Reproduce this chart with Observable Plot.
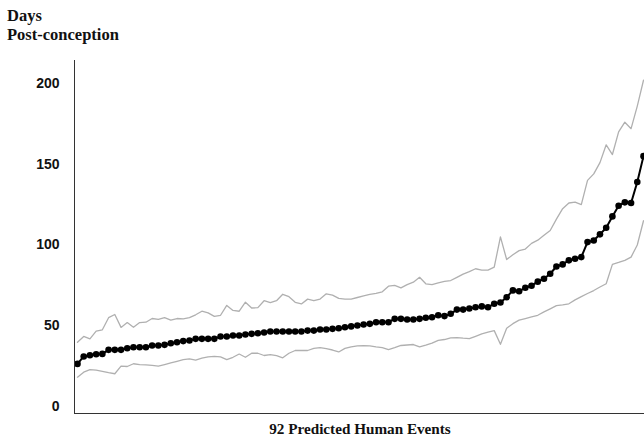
<!DOCTYPE html>
<html>
<head>
<meta charset="utf-8">
<script src="https://cdn.jsdelivr.net/npm/d3@7"></script>
<script src="https://cdn.jsdelivr.net/npm/@observablehq/plot@0.6"></script>
<style>
  html, body { margin: 0; padding: 0; background: #fff; }
  #wrap { position: relative; width: 644px; height: 438px; overflow: hidden; }
  .t { position: absolute; font-family: "Liberation Serif", "Times New Roman", serif; font-weight: bold; font-size: 15px; color: #111; line-height: 1; white-space: nowrap; }
  .title { font-size: 16.5px; }
</style>
</head>
<body>
<div id="wrap">
  <div class="t title" style="left:7px; top:8px;">Days</div>
  <div class="t title" style="left:7px; top:27px;">Post-conception</div>
  <div class="t" id="xlab" style="left:0; width:644px; text-align:center; padding-left:76px; box-sizing:border-box; top:421px; font-size:15.2px;">92 Predicted Human Events</div>
</div>
<script>
const median = [26.4,31,31.8,32.4,32.6,35.1,35.1,35.1,36.1,36.7,36.7,36.7,37.8,37.8,38.2,39.2,39.8,40.5,40.9,41.9,
  41.9,41.9,41.9,43.4,43.4,44,44,44.6,45,45.4,45.8,46.5,46.5,46.5,46.5,46.5,46.5,47,47,47.7,
  47.7,48.1,48.5,49.1,49.6,50.2,50.8,51.2,52.2,52.2,52.2,54.3,54.3,53.9,53.9,54.3,55,55.3,56.5,56,
  57.4,60,60,60.7,61.5,62,61.5,63.6,64.4,67.7,71.9,71.4,73.5,74.8,77.3,79.1,82.2,86.7,88,90.5,
  91.5,92.5,101.8,102.8,106.6,110.7,117.7,124.3,126.4,126,139,155];
const upper = [39.8,43.4,41.9,46.7,47.5,55,57,49,52,49.1,52,52.2,54.5,54,55,53.5,54.5,54.3,55,56.8,
  59,58,55.8,56.5,62.6,59.5,59,64.6,61,61.2,65.5,64.3,65.5,69.5,68,64.5,63.5,66.5,65.5,66.5,
  69.8,69,67,66.5,66.5,67.5,68.5,69.5,70,71,74.5,75,73.5,75.5,77,80,76,75.5,76.5,77.5,
  78,80,82,83.5,85.3,84.5,84.5,86.3,105,91,94,96.5,97.5,101,103,106,109,116,122.5,126,
  126.5,125,140,144,151,162,156,170,176,172,186,202];
const lower = [18.2,21.3,22.8,22.5,21.8,21,20.3,25,24.8,26.5,26,25.8,25.5,25,26,27,28,29,29.5,28.8,
  30,30.8,31,30.7,29,30.5,32.5,30.5,33,33,31.6,32.2,31.5,30.2,33,34.7,34.7,34.7,36,36.5,
  35.8,35,33.8,36,37,37.5,37.7,37.6,37,36.5,35.3,36.5,37.8,38.1,38.4,37,38,39.3,41,41.5,
  42.5,42.7,42.3,42,43.5,45,46,47,38.5,48.5,51.3,53.5,54.5,55.5,56.5,58.6,60.5,62.5,63,63.6,
  66,68,70,71.8,74,76,88,89.2,90.5,92.5,100,115];
const yTicks = [0, 50, 100, 150, 200];

const idx = median.map((_, i) => i);
const xMin = -0.48, xMax = 91.16, yMin = -4.3, yMax = 214.2;

const chart = Plot.plot({
  width: 644,
  height: 438,
  marginLeft: 74,
  marginRight: 0,
  marginTop: 60,
  marginBottom: 25,
  x: {domain: [xMin, xMax], axis: null},
  y: {domain: [yMin, yMax], ticks: yTicks, tickSize: 0, tickPadding: 15, label: null},
  style: {fontFamily: "'Liberation Sans', Arial, sans-serif", fontSize: "14px", fontWeight: "bold", color: "#111", background: "#fff"},
  marks: [
    Plot.line(idx, {x: i => i, y: i => upper[i], stroke: "#b0b0b0", strokeWidth: 1.3}),
    Plot.line(idx, {x: i => i, y: i => lower[i], stroke: "#b0b0b0", strokeWidth: 1.3}),
    Plot.line(idx, {x: i => i, y: i => median[i], stroke: "#000", strokeWidth: 2}),
    Plot.dot(idx, {x: i => i, y: i => median[i], r: 3.3, fill: "#000", stroke: "none"}),
    Plot.ruleX([xMin], {stroke: "#333", strokeWidth: 1}),
    Plot.ruleY([yMin], {stroke: "#333", strokeWidth: 1})
  ]
});
chart.style.position = "absolute";
chart.style.left = "0";
chart.style.top = "0";
const wrap = document.getElementById("wrap");
wrap.insertBefore(chart, wrap.firstChild);
</script>
</body>
</html>
